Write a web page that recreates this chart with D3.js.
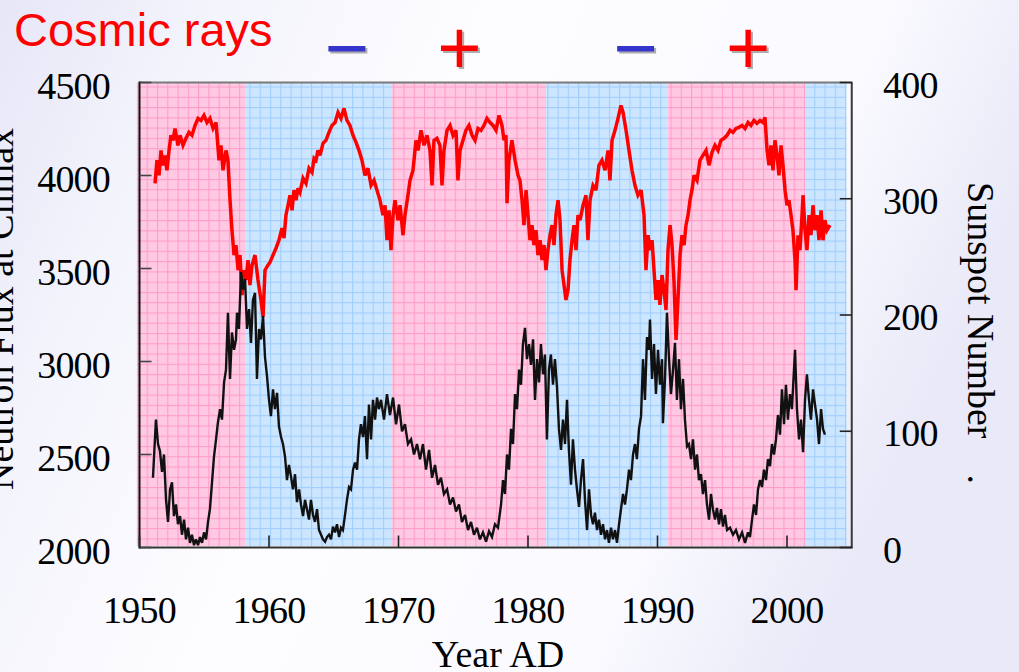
<!DOCTYPE html>
<html><head><meta charset="utf-8">
<script src="https://cdn.jsdelivr.net/npm/d3@7"></script>
<style>html,body{margin:0;padding:0;background:#fff;} svg{display:block;}</style>
</head><body>
<svg id="chart" width="1019" height="672"></svg>
<script>
// ---- data ----
const neutronFlux = [[1951.20,3958],[1951.35,4082],[1951.51,4001],[1951.66,4135],[1951.81,4055],[1951.97,4108],[1952.12,4028],[1952.28,4135],[1952.43,4216],[1952.59,4189],[1952.74,4253],[1952.97,4162],[1953.13,4216],[1953.36,4162],[1953.59,4200],[1953.82,4232],[1954.05,4216],[1954.29,4269],[1954.52,4307],[1954.75,4296],[1954.98,4323],[1955.21,4285],[1955.44,4307],[1955.68,4253],[1955.91,4285],[1956.14,4082],[1956.29,4162],[1956.45,4028],[1956.68,4135],[1956.83,4082],[1956.99,3867],[1957.14,3706],[1957.30,3572],[1957.45,3626],[1957.61,3491],[1957.76,3572],[1957.92,3357],[1958.07,3491],[1958.22,3438],[1958.38,3545],[1958.53,3411],[1958.69,3518],[1958.92,3572],[1959.15,3438],[1959.38,3331],[1959.54,3239],[1959.69,3491],[1959.92,3518],[1960.08,3534],[1960.31,3572],[1960.54,3609],[1960.77,3652],[1961.00,3717],[1961.16,3663],[1961.31,3787],[1961.47,3840],[1961.62,3894],[1961.78,3813],[1961.93,3921],[1962.09,3867],[1962.24,3931],[1962.39,3910],[1962.63,3985],[1962.86,3958],[1963.09,4039],[1963.32,4017],[1963.48,4092],[1963.63,4082],[1963.78,4135],[1963.94,4108],[1964.17,4173],[1964.40,4189],[1964.63,4232],[1964.86,4269],[1965.10,4285],[1965.33,4339],[1965.56,4307],[1965.79,4361],[1966.02,4296],[1966.25,4269],[1966.49,4216],[1966.72,4178],[1966.95,4135],[1967.18,4082],[1967.41,4001],[1967.64,4039],[1967.88,3947],[1968.11,3974],[1968.34,3921],[1968.57,3867],[1968.80,3787],[1968.96,3840],[1969.11,3652],[1969.27,3813],[1969.42,3599],[1969.58,3787],[1969.73,3867],[1969.96,3760],[1970.12,3840],[1970.35,3679],[1970.50,3787],[1970.73,3894],[1970.89,3974],[1971.12,4028],[1971.35,4189],[1971.51,4135],[1971.74,4243],[1971.97,4162],[1972.20,4216],[1972.43,4135],[1972.59,3947],[1972.74,4189],[1972.97,4200],[1973.20,4162],[1973.36,3947],[1973.51,4135],[1973.75,4243],[1973.98,4269],[1974.21,4216],[1974.44,4243],[1974.59,3974],[1974.75,4135],[1974.98,4189],[1975.21,4243],[1975.44,4269],[1975.68,4216],[1975.91,4189],[1976.14,4253],[1976.37,4243],[1976.60,4269],[1976.83,4307],[1977.07,4285],[1977.30,4269],[1977.53,4243],[1977.76,4323],[1977.99,4269],[1978.15,4189],[1978.30,4216],[1978.38,3851],[1978.53,4082],[1978.76,4189],[1979.00,4082],[1979.23,4001],[1979.38,3974],[1979.54,3867],[1979.69,3733],[1979.85,3921],[1980.00,3787],[1980.15,3652],[1980.31,3733],[1980.46,3626],[1980.62,3706],[1980.77,3572],[1980.93,3652],[1981.08,3545],[1981.24,3626],[1981.39,3491],[1981.54,3599],[1981.70,3679],[1981.85,3733],[1982.01,3626],[1982.16,3787],[1982.32,3867],[1982.47,3760],[1982.63,3491],[1982.78,3411],[1982.93,3331],[1983.09,3384],[1983.24,3545],[1983.40,3652],[1983.55,3733],[1983.71,3599],[1983.86,3787],[1984.02,3760],[1984.25,3840],[1984.48,3894],[1984.63,3652],[1984.79,3867],[1985.02,3947],[1985.25,3921],[1985.48,4055],[1985.71,4082],[1985.95,4028],[1986.18,4135],[1986.33,3974],[1986.49,4189],[1986.72,4243],[1986.95,4307],[1987.18,4377],[1987.34,4339],[1987.57,4243],[1987.80,4135],[1988.03,4028],[1988.26,3947],[1988.49,3894],[1988.73,3921],[1988.96,3787],[1989.11,3491],[1989.27,3679],[1989.42,3599],[1989.58,3652],[1989.73,3491],[1989.88,3331],[1990.04,3438],[1990.19,3304],[1990.35,3465],[1990.50,3384],[1990.66,3277],[1990.81,3599],[1990.97,3733],[1991.12,3626],[1991.27,3438],[1991.43,3116],[1991.58,3331],[1991.74,3572],[1991.89,3679],[1992.05,3626],[1992.20,3733],[1992.36,3787],[1992.51,3867],[1992.66,3921],[1992.82,4001],[1993.05,3974],[1993.28,4082],[1993.51,4108],[1993.75,4135],[1993.98,4055],[1994.21,4125],[1994.44,4162],[1994.67,4135],[1994.90,4189],[1995.14,4200],[1995.37,4216],[1995.60,4243],[1995.83,4232],[1996.06,4253],[1996.29,4259],[1996.53,4269],[1996.76,4253],[1996.99,4285],[1997.22,4269],[1997.45,4296],[1997.68,4280],[1997.92,4296],[1998.15,4285],[1998.30,4312],[1998.46,4135],[1998.61,4055],[1998.76,4162],[1998.92,4028],[1999.07,4189],[1999.23,4108],[1999.38,4001],[1999.54,4162],[1999.69,4055],[1999.85,3921],[2000.00,3840],[2000.15,3867],[2000.31,3787],[2000.46,3706],[2000.62,3545],[2000.70,3384],[2000.85,3679],[2001.00,3599],[2001.16,3787],[2001.24,3894],[2001.39,3706],[2001.54,3599],[2001.70,3787],[2001.85,3679],[2002.01,3840],[2002.16,3706],[2002.32,3787],[2002.47,3652],[2002.63,3813],[2002.78,3652],[2002.93,3760],[2003.09,3706],[2003.32,3733]];

const sunspots = [[1951.04,60],[1951.27,110],[1951.43,89],[1951.58,83],[1951.74,65],[1951.89,80],[1952.05,41],[1952.20,22],[1952.36,50],[1952.51,56],[1952.66,27],[1952.82,37],[1952.97,20],[1953.13,27],[1953.28,11],[1953.44,24],[1953.59,7],[1953.75,17],[1953.90,4],[1954.05,11],[1954.21,2],[1954.36,7],[1954.52,2],[1954.67,9],[1954.83,4],[1954.98,13],[1955.14,7],[1955.29,22],[1955.44,33],[1955.60,56],[1955.75,78],[1955.91,93],[1956.06,108],[1956.22,119],[1956.37,110],[1956.53,142],[1956.68,153],[1956.83,202],[1956.99,145],[1957.14,185],[1957.30,170],[1957.45,179],[1957.53,202],[1957.68,188],[1957.84,237],[1957.99,222],[1958.15,231],[1958.30,188],[1958.46,205],[1958.61,176],[1958.76,213],[1958.92,219],[1959.07,145],[1959.23,188],[1959.38,179],[1959.54,199],[1959.69,164],[1959.85,147],[1960.00,127],[1960.15,113],[1960.31,136],[1960.46,119],[1960.62,133],[1960.77,104],[1960.93,95],[1961.08,89],[1961.24,78],[1961.39,58],[1961.54,71],[1961.70,61],[1961.85,50],[1962.01,63],[1962.16,39],[1962.32,50],[1962.47,37],[1962.63,27],[1962.78,41],[1962.93,33],[1963.09,24],[1963.24,41],[1963.40,28],[1963.55,22],[1963.71,33],[1963.86,15],[1964.02,11],[1964.17,7],[1964.33,5],[1964.48,9],[1964.63,11],[1964.79,7],[1964.94,18],[1965.10,13],[1965.25,20],[1965.41,9],[1965.56,17],[1965.71,15],[1965.87,28],[1966.02,41],[1966.18,52],[1966.33,50],[1966.49,67],[1966.64,73],[1966.80,67],[1966.95,93],[1967.10,106],[1967.26,95],[1967.41,113],[1967.57,76],[1967.72,123],[1967.88,93],[1968.03,127],[1968.19,110],[1968.34,129],[1968.49,119],[1968.65,127],[1968.88,110],[1969.11,132],[1969.34,114],[1969.58,129],[1969.81,106],[1970.04,123],[1970.27,100],[1970.50,106],[1970.73,89],[1970.97,93],[1971.20,80],[1971.43,89],[1971.66,76],[1971.89,89],[1972.12,67],[1972.36,84],[1972.59,60],[1972.82,71],[1973.05,54],[1973.28,60],[1973.51,46],[1973.75,50],[1973.98,37],[1974.21,43],[1974.44,31],[1974.67,37],[1974.90,22],[1975.14,28],[1975.37,15],[1975.60,22],[1975.83,11],[1976.06,17],[1976.29,7],[1976.52,13],[1976.76,5],[1976.99,14],[1977.22,9],[1977.45,20],[1977.68,17],[1977.92,37],[1978.07,58],[1978.22,46],[1978.38,80],[1978.53,67],[1978.69,102],[1978.84,89],[1979.00,132],[1979.15,119],[1979.31,153],[1979.46,140],[1979.61,175],[1979.77,189],[1979.92,162],[1980.08,175],[1980.23,157],[1980.39,179],[1980.54,127],[1980.70,162],[1980.85,142],[1981.00,175],[1981.16,149],[1981.31,166],[1981.46,93],[1981.62,153],[1981.77,166],[1981.93,140],[1982.08,162],[1982.24,138],[1982.39,102],[1982.55,84],[1982.70,110],[1982.86,89],[1983.01,127],[1983.16,84],[1983.32,54],[1983.47,93],[1983.63,67],[1983.78,50],[1983.94,35],[1984.09,58],[1984.25,76],[1984.40,41],[1984.56,15],[1984.71,50],[1984.87,28],[1985.02,20],[1985.17,30],[1985.33,15],[1985.48,24],[1985.64,11],[1985.79,20],[1985.95,7],[1986.10,15],[1986.25,4],[1986.41,17],[1986.56,7],[1986.72,15],[1986.87,4],[1987.03,20],[1987.18,33],[1987.34,46],[1987.49,37],[1987.64,50],[1987.80,67],[1987.95,58],[1988.11,80],[1988.26,89],[1988.41,76],[1988.57,102],[1988.73,113],[1988.88,162],[1989.03,127],[1989.19,181],[1989.34,170],[1989.42,196],[1989.58,145],[1989.73,175],[1989.88,132],[1990.04,170],[1990.19,140],[1990.35,162],[1990.42,107],[1990.58,145],[1990.73,202],[1990.89,162],[1991.04,132],[1991.20,153],[1991.35,176],[1991.50,127],[1991.66,162],[1991.81,119],[1991.97,145],[1992.12,110],[1992.28,87],[1992.43,89],[1992.59,76],[1992.74,93],[1992.90,67],[1993.05,80],[1993.20,58],[1993.36,63],[1993.51,46],[1993.67,58],[1993.82,37],[1993.98,24],[1994.13,46],[1994.28,33],[1994.44,24],[1994.59,34],[1994.75,20],[1994.90,33],[1995.06,18],[1995.21,28],[1995.37,15],[1995.60,17],[1995.83,11],[1996.06,15],[1996.29,7],[1996.53,13],[1996.76,4],[1996.99,13],[1997.14,9],[1997.30,24],[1997.45,37],[1997.61,28],[1997.76,50],[1997.92,58],[1998.07,52],[1998.22,67],[1998.38,58],[1998.53,76],[1998.69,70],[1998.84,89],[1999.00,80],[1999.15,93],[1999.30,114],[1999.46,97],[1999.61,136],[1999.77,106],[1999.92,140],[2000.07,110],[2000.23,132],[2000.38,119],[2000.62,170],[2000.77,119],[2000.93,93],[2001.08,110],[2001.24,82],[2001.39,127],[2001.54,149],[2001.70,127],[2001.85,110],[2002.01,136],[2002.16,123],[2002.32,110],[2002.47,89],[2002.63,119],[2002.78,102],[2002.93,97]];

const polarityStart = [1949.8, 1958.15, 1969.5, 1981.4, 1990.8, 2001.4];
const polarityEnd   = [1958.15, 1969.5, 1981.4, 1990.8, 2001.4, 2004.6];
const polaritySign  = ["+", "−", "+", "−", "+", "−"];
const signLabels = ["−", "+", "−", "+"];
const signYears  = [1966.0, 1974.7, 1988.3, 1997.0];
const xTicks = [1950, 1960, 1970, 1980, 1990, 2000];
const yLeftTicks = [2000, 2500, 3000, 3500, 4000, 4500];
const yRightTicks = [0, 100, 200, 300, 400];

// ---- drawing ----
const svg = d3.select("#chart");
const defs = svg.append("defs");
const W = 1019, H = 672;
const L = 139.5, R = 851.75, T = 82.5, B = 547.5;

const x = d3.scaleLinear().domain([1950, 2005]).range([L, R]);
const yL = d3.scaleLinear().domain([2000, 4500]).range([B, T]);
const yR = d3.scaleLinear().domain([0, 400]).range([B, T]);

// background gradient
const bg = defs.append("linearGradient").attr("id", "bg").attr("x1", "0").attr("y1", "0").attr("x2", "1").attr("y2", "0.3");
[[0, "#e6e6f7"], [0.18, "#f3f3fc"], [0.45, "#fdfdff"], [0.8, "#fafaff"], [1, "#e9e9f8"]]
  .forEach(([o, c]) => bg.append("stop").attr("offset", o).attr("stop-color", c));
svg.append("rect").attr("width", W).attr("height", H).attr("fill", "url(#bg)");

// grid patterns
const patterns = {"+": {fill: "#ffc9e3", line: "#ff9dca"}, "−": {fill: "#cce6ff", line: "#a1cefd"}};
const gs = 10.27;
Object.entries(patterns).forEach(([k, p], i) => {
  const pat = defs.append("pattern").attr("id", "pat" + i).attr("patternUnits", "userSpaceOnUse")
    .attr("x", L + 7.2).attr("y", T + 4).attr("width", gs).attr("height", gs);
  pat.append("rect").attr("width", gs).attr("height", gs).attr("fill", p.fill);
  pat.append("rect").attr("x", 0).attr("y", 0).attr("width", 1.1).attr("height", gs).attr("fill", p.line);
  pat.append("rect").attr("x", 0).attr("y", 0).attr("width", gs).attr("height", 1.1).attr("fill", p.line);
  p.id = "pat" + i;
});

svg.append("g").selectAll("rect").data(polarityStart).join("rect")
  .attr("x", (d) => x(d))
  .attr("width", (d, i) => x(polarityEnd[i]) - x(d))
  .attr("y", T).attr("height", B - 1.5 - T)
  .attr("fill", (d, i) => `url(#${patterns[polaritySign[i]].id})`);

// lines
const lineNF = d3.line().x(d => x(d[0])).y(d => yL(d[1]));
const lineSS = d3.line().x(d => x(d[0])).y(d => yR(d[1]));
svg.append("path").datum(neutronFlux).attr("d", lineNF).attr("fill", "none")
  .attr("stroke", "#ff0000").attr("stroke-width", 3.5).attr("stroke-linejoin", "miter").attr("stroke-miterlimit", 3);
svg.append("path").datum(sunspots).attr("d", lineSS).attr("fill", "none")
  .attr("stroke", "#111").attr("stroke-width", 2.4).attr("stroke-linejoin", "miter").attr("stroke-miterlimit", 3);

// frame
const frame = svg.append("g").attr("stroke-width", 2).attr("fill", "none");
frame.append("line").attr("x1", L).attr("x2", R + 1).attr("y1", T).attr("y2", T).attr("stroke", "#7a7a7a");
frame.append("line").attr("x1", R).attr("x2", R).attr("y1", T).attr("y2", B).attr("stroke", "#3a3a3a");
frame.append("line").attr("x1", L).attr("x2", R + 1).attr("y1", B).attr("y2", B).attr("stroke", "#333");
frame.append("line").attr("x1", L).attr("x2", L).attr("y1", T - 1).attr("y2", B + 1).attr("stroke", "#111");

// ticks
const tk = svg.append("g").attr("stroke-width", 1.6);
tk.selectAll(".tl").data(yLeftTicks).join("line").attr("stroke", "#444")
  .attr("x1", L).attr("x2", L + 12).attr("y1", d => yL(d)).attr("y2", d => yL(d));
tk.selectAll(".tr").data(yRightTicks).join("line").attr("stroke", "#222")
  .attr("x1", R - 12).attr("x2", R).attr("y1", d => yR(d)).attr("y2", d => yR(d));
tk.selectAll(".tb").data(xTicks).join("line").attr("stroke", "#222")
  .attr("x1", d => x(d)).attr("x2", d => x(d)).attr("y1", B).attr("y2", B - 12);

// tick labels
const serif = "'Liberation Serif', 'Times New Roman', serif";
const lab = svg.append("g").attr("font-family", serif).attr("font-size", 38).attr("fill", "#000");
lab.selectAll(".ll").data(yLeftTicks).join("text").attr("letter-spacing", -0.8)
  .attr("x", 110).attr("y", d => yL(d) + 16).attr("text-anchor", "end").text(d => d);
lab.selectAll(".rl").data(yRightTicks).join("text").attr("letter-spacing", -0.8)
  .attr("x", 883).attr("y", d => yR(d) + 15).attr("text-anchor", "start").text(d => d);
lab.selectAll(".bl").data(xTicks).join("text").attr("letter-spacing", -0.8)
  .attr("x", d => x(d)).attr("y", 623).attr("text-anchor", "middle").text(d => d);

// axis titles
lab.append("text").attr("text-anchor", "middle").attr("x", 498).attr("y", 667).text("Year AD");
lab.append("text").attr("transform", "translate(13,490) rotate(-90)").attr("text-anchor", "start")
  .text("Neutron Flux at Climax");
const rt = lab.append("text").attr("transform", "translate(968,182) rotate(90)").attr("text-anchor", "start");
rt.append("tspan").text("Sunspot Number");
rt.append("tspan").attr("dx", 38).text(".");

// title and signs
const sans = "'Liberation Sans', Arial, sans-serif";
svg.append("text").attr("x", 14).attr("y", 46).attr("font-family", sans).attr("font-size", 47)
  .attr("fill", "#ff0000").text("Cosmic rays");

const shadow = defs.append("filter").attr("id", "sh").attr("x", "-20%").attr("y", "-20%").attr("width", "140%").attr("height", "140%");
shadow.append("feDropShadow").attr("dx", 2).attr("dy", 2).attr("stdDeviation", 0.7)
  .attr("flood-color", "#777").attr("flood-opacity", 0.6);

svg.append("g").selectAll("text").data(signLabels).join("text")
  .attr("x", (d, i) => x(signYears[i])).attr("y", 74)
  .attr("text-anchor", "middle").attr("font-family", sans).attr("font-size", 76)
  .attr("fill", d => d === "+" ? "#ff0000" : "#3535cc")
  .attr("filter", "url(#sh)")
  .text(d => d);
</script>
</body></html>
